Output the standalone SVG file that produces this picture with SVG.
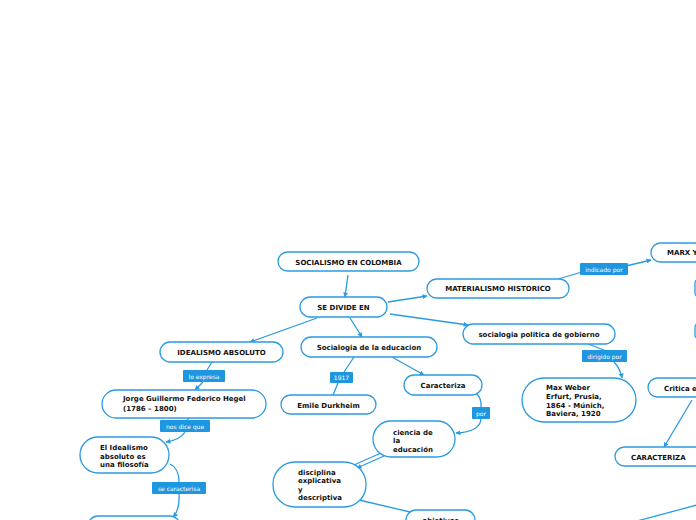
<svg xmlns="http://www.w3.org/2000/svg" width="696" height="520" viewBox="0 0 696 520">
<defs>
<style>
.n{fill:#fff;stroke:#2a9be2;stroke-width:1.3}
.t{font-family:"DejaVu Sans",Verdana,sans-serif;font-weight:bold;font-size:7px;fill:#111}
.c{text-anchor:middle}
.lb{fill:#1e96e0}
.lt{font-family:"DejaVu Sans",Verdana,sans-serif;font-size:6px;fill:#fff;text-anchor:middle}
.e{fill:none;stroke:#2a9be2;stroke-width:1.3}
</style>
<marker id="a" viewBox="0 0 10 10" refX="9" refY="5" markerWidth="5" markerHeight="5" orient="auto" markerUnits="userSpaceOnUse">
<path d="M0,0 L10,5 L0,10 z" fill="#2a9be2"/>
</marker>
</defs>
<rect width="696" height="520" fill="#fff"/>
<g id="connectors">
<path class="e" d="M348,275 L345,297" marker-end="url(#a)"/>
<path class="e" d="M388,302 L427,296" marker-end="url(#a)"/>
<path class="e" d="M390,314 L468,325" marker-end="url(#a)"/>
<path class="e" d="M350,318 L362,337" marker-end="url(#a)"/>
<path class="e" d="M317,318 L250,342" marker-end="url(#a)"/>
<path class="e" d="M558,279 L582,272"/>
<path class="e" d="M626,266 L651,260" marker-end="url(#a)"/>
<path class="e" d="M588,344 L604,350"/>
<path class="e" d="M614,362 Q620,368 622,378" marker-end="url(#a)"/>
<path class="e" d="M354,357 L344,372"/>
<path class="e" d="M338,383 L333,395"/>
<path class="e" d="M392,357 L424,375" marker-end="url(#a)"/>
<path class="e" d="M476,393 Q482,399 481,407"/>
<path class="e" d="M481,419 Q480,432 456,433" marker-end="url(#a)"/>
<path class="e" d="M381,453 L354,465"/>
<path class="e" d="M384,456 L357,468" marker-end="url(#a)"/>
<path class="e" d="M359,500 L410,512"/>
<path class="e" d="M212,362 L207,370"/>
<path class="e" d="M203,382 L195,390" marker-end="url(#a)"/>
<path class="e" d="M189,418 L187,420"/>
<path class="e" d="M185,432 Q180,440 166,442" marker-end="url(#a)"/>
<path class="e" d="M170,464 Q179,468 179,482"/>
<path class="e" d="M179,494 Q180,510 173,517" marker-end="url(#a)"/>
<path class="e" d="M692,400 L664,447" marker-end="url(#a)"/>
<path class="e" d="M697,505 L637,521"/>
</g>
<g id="n1"><rect class="n" x="278" y="252" width="141" height="19" rx="9.5"/><text class="t c" x="348.5" y="264.5">SOCIALISMO EN COLOMBIA</text></g>
<g id="n2"><rect class="n" x="300" y="297" width="87" height="20" rx="10"/><text class="t c" x="343.5" y="309.5">SE DIVIDE EN</text></g>
<g id="n3"><rect class="n" x="427" y="279" width="142" height="19" rx="9.5"/><text class="t c" x="498" y="291">MATERIALISMO HISTORICO</text></g>
<g id="n4"><rect class="n" x="651" y="243" width="80" height="19" rx="9.5"/><text class="t" x="667" y="255">MARX Y</text></g>
<g id="n5"><rect class="n" x="463" y="324" width="152" height="20" rx="10"/><text class="t c" x="539" y="337">socialogia politica de gobierno</text></g>
<g id="n6"><rect class="n" x="301" y="337" width="136" height="20" rx="10"/><text class="t c" x="369" y="350">Socialogia de la educacion</text></g>
<g id="n7"><rect class="n" x="160" y="342" width="123" height="20" rx="10"/><text class="t c" x="221.5" y="355">IDEALISMO ABSOLUTO</text></g>
<g id="n8"><rect class="n" x="102" y="390" width="164" height="28" rx="14"/><text class="t" x="123" y="401">Jorge Guillermo Federico Hegel</text><text class="t" x="123" y="411">(1786 – 1800)</text></g>
<g id="n9"><rect class="n" x="281" y="395" width="95" height="19" rx="9.5"/><text class="t c" x="328.5" y="407.5">Emile Durkheim</text></g>
<g id="n10"><rect class="n" x="404" y="375" width="78" height="20" rx="10"/><text class="t c" x="443" y="388">Caracteriza</text></g>
<g id="n11"><rect class="n" x="373" y="421" width="82" height="36" rx="18"/><text class="t" x="393" y="434.5">ciencia de</text><text class="t" x="393" y="443">la</text><text class="t" x="393" y="451.5">educación</text></g>
<g id="n12"><rect class="n" x="273" y="462" width="93" height="45" rx="22"/><text class="t" x="298" y="475">disciplina</text><text class="t" x="298" y="483">explicativa</text><text class="t" x="298" y="491.5">y</text><text class="t" x="298" y="499.5">descriptiva</text></g>
<g id="n13"><rect class="n" x="80" y="437" width="89" height="36" rx="18"/><text class="t" x="100" y="450">El Idealismo</text><text class="t" x="100" y="458.5">absoluto es</text><text class="t" x="100" y="467">una filosofía</text></g>
<g id="n14"><rect class="n" x="522" y="378" width="114" height="44" rx="22"/><text class="t" x="546" y="390">Max Weber</text><text class="t" x="546" y="399">Erfurt, Prusia,</text><text class="t" x="546" y="407.5">1864 - Múnich,</text><text class="t" x="546" y="416">Baviera, 1920</text></g>
<g id="n15"><rect class="n" x="648" y="378" width="80" height="19" rx="9.5"/><text class="t" x="664" y="390.5">Critica e</text></g>
<g id="n16"><rect class="n" x="615" y="447" width="90" height="19" rx="9.5"/><text class="t" x="631" y="459.5">CARACTERIZA</text></g>
<g id="n17"><rect class="n" x="406" y="510" width="69" height="20" rx="10"/><text class="t c" x="440.5" y="523">objetivos</text></g>
<g id="n18"><rect class="n" x="88" y="516" width="92" height="20" rx="10"/></g>
<g id="n19"><rect class="n" x="695" y="279" width="40" height="18" rx="4"/></g>
<g id="n20"><rect class="n" x="695" y="324" width="40" height="14" rx="3"/></g>
<g id="labels">
<rect class="lb" x="580" y="263" width="48" height="12" rx="1"/><text class="lt" x="604" y="271.5">indicado por</text>
<rect class="lb" x="582" y="350" width="45" height="12" rx="1"/><text class="lt" x="604.5" y="358.5">dirigido por</text>
<rect class="lb" x="183" y="370" width="42" height="12" rx="1"/><text class="lt" x="204" y="378.5">lo expresa</text>
<rect class="lb" x="160" y="420" width="50" height="12" rx="1"/><text class="lt" x="185" y="428.5">nos dice que</text>
<rect class="lb" x="330" y="372" width="23" height="11" rx="1"/><text class="lt" x="341.5" y="380">1917</text>
<rect class="lb" x="472" y="407" width="18" height="12" rx="1"/><text class="lt" x="481" y="415.5">por</text>
<rect class="lb" x="152" y="482" width="54" height="12" rx="1"/><text class="lt" x="179" y="490.5">se caracterisa</text>
</g>
</svg>
